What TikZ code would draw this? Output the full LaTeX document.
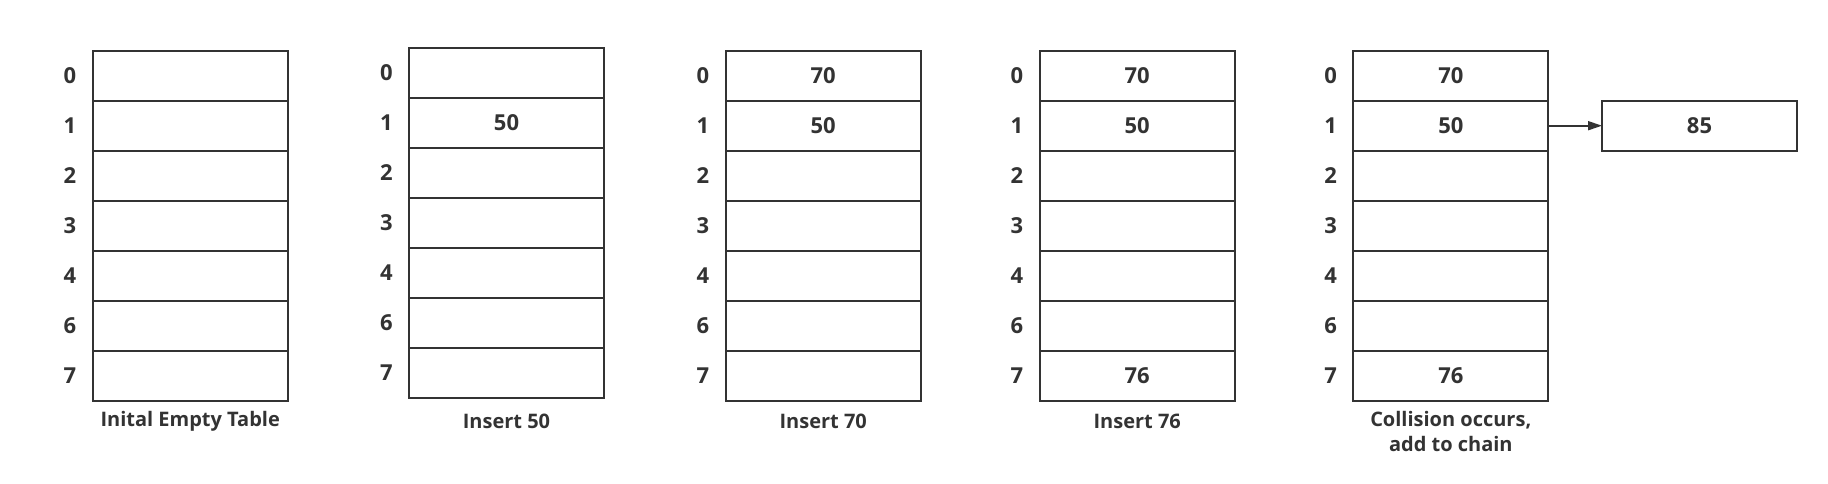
\documentclass[tikz,border=0pt]{standalone}
\usepackage{fontspec}
\setmainfont{Open Sans}
\usetikzlibrary{arrows.meta}
\definecolor{ink}{HTML}{333333}
\begin{document}
\begin{tikzpicture}[x=1pt,y=-1pt,
  cell/.style={draw=ink,line width=1.8pt,minimum width=195pt,minimum height=50pt,inner sep=0pt,outer sep=0pt,anchor=north west},
  idx/.style={text=ink,font=\fontsize{22}{26}\selectfont\bfseries,inner sep=0pt},
  val/.style={text=ink,font=\fontsize{22}{26}\selectfont\bfseries,inner sep=0pt},
  capt/.style={text=ink,font=\fontsize{20}{25}\selectfont\bfseries,inner sep=0pt,align=center}]
\useasboundingbox (0,0) rectangle (1828,484);
\foreach \t/\x/\y in {1/92.7/50.7, 2/409/47.7, 3/725.7/50.7, 4/1039.7/50.7, 5/1353.3/50.7} {
  \foreach \lab [count=\i from 0] in {0,1,2,3,4,6,7} {
    \node[cell] (t\t r\i) at (\x,{\y+50*\i}) {};
    \node[idx] (l\t r\i) at ([xshift=-22.7pt]t\t r\i.west) {\lab};
  }
}
% values
\node[val] (v2a) at (t2r1.center) {50};
\node[val] (v3a) at (t3r0.center) {70};
\node[val] (v3b) at (t3r1.center) {50};
\node[val] (v4a) at (t4r0.center) {70};
\node[val] (v4b) at (t4r1.center) {50};
\node[val] (v4c) at (t4r6.center) {76};
\node[val] (v5a) at (t5r0.center) {70};
\node[val] (v5b) at (t5r1.center) {50};
\node[val] (v5c) at (t5r6.center) {76};
% chain
\node[cell] (chain) at (1602,100.7) {};
\node[val] (v85) at (chain.center) {85};
\draw[draw=ink,line width=1.8pt,-{Triangle[length=14pt,width=9pt]}] (t5r1.east) -- (chain.west);
% captions
\node[capt] (c1) at (190.2,421.7) {Inital Empty Table};
\node[capt] (c2) at (506.5,421.7) {Insert 50};
\node[capt] (c3) at (823.2,421.7) {Insert 70};
\node[capt] (c4) at (1137.2,421.7) {Insert 76};
\node[capt] (c5) at (1450.8,431.5) {Collision occurs,\\add to chain};
\end{tikzpicture}
\end{document}
